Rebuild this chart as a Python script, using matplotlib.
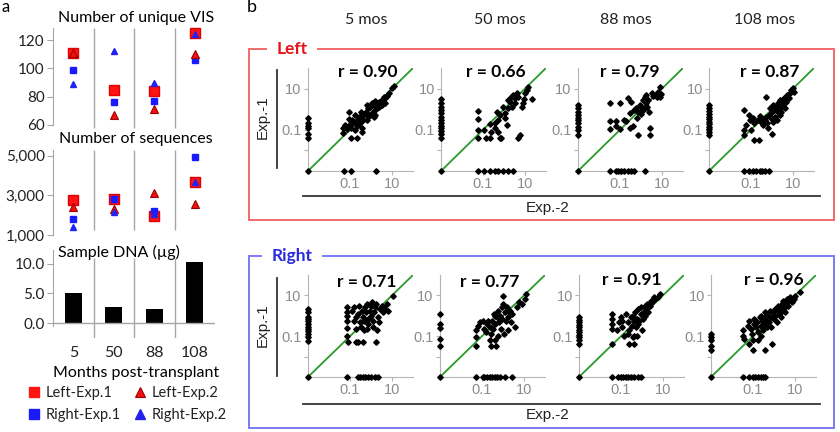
import numpy as np
import matplotlib.pyplot as plt
from matplotlib.lines import Line2D
from matplotlib.patches import Rectangle
from matplotlib.ticker import NullLocator

plt.rcParams['font.family'] = ['Lato', 'DejaVu Sans']

W, H = 840, 432

# ---- panel a ----
months = ["5", "50", "88", "108"]
vis_left1 = [111, 85, 84, 125]
vis_left2 = [111, 67, 71, 110]
vis_right1 = [99, 76, 77, 106]
vis_right2 = [89, 112, 90, 124]
seq_left1 = [2750, 2800, 1950, 3650]
seq_left2 = [2400, 2300, 3100, 2550]
seq_right1 = [1800, 2800, 2200, 4950]
seq_right2 = [1400, 2150, 2050, 3700]
dna_ug = [5.0, 2.7, 2.4, 10.4]

# ---- panel b: log10 abundance, (Exp.-2, Exp.-1) ----
col_titles = ["5 mos", "50 mos", "88 mos", "108 mos"]
r_left = [0.90, 0.66, 0.79, 0.87]
r_right = [0.71, 0.77, 0.91, 0.96]

l5_pts = [(1.1, 1.13), (1.02, 1.02), (0.85, 0.77), (0.77, 0.64), (0.69, 0.53), (0.61, 0.58),
          (0.53, 0.45), (0.40, 0.37), (0.28, 0.28), (0.20, 0.41), (0.12, 0.20), (0.04, 0.32),
          (-0.04, 0.12), (-0.12, 0.04), (-0.20, 0.20), (-0.25, -0.12), (-0.32, -0.24), (-0.41, -0.33),
          (-0.48, -0.12), (-0.58, -0.40), (-0.64, -0.50), (-0.74, -0.28), (-0.80, -0.61), (-0.90, -0.53),
          (-0.97, -0.69), (-1.07, -0.12), (-1.07, -0.50), (-1.02, -0.77), (-0.93, -0.89), (-0.69, -0.82),
          (-0.53, -0.69), (-0.45, -0.89), (-0.37, -0.53), (-0.20, -0.53), (-0.04, -0.28), (0.07, -0.17),
          (0.17, -0.04), (0.28, 0.04), (0.37, 0.12), (0.50, 0.20), (0.66, 0.32), (-0.12, -0.37),
          (0.12, -0.40), (-0.45, -1.10), (-0.77, -1.02), (-0.93, -1.42), (-0.69, -1.42), (-1.34, -0.89),
          (-1.34, -1.15), (-1.26, -0.77), (-1.13, -0.98), (0.20, -0.28)]
l5_only1 = [-0.45, -0.69, -0.82, -0.93, -1.18, -1.42]
l5_only2 = [-1.29, -0.95, 0.22]

l50_pts = [(-1.23, -0.07), (-1.23, -0.48), (-1.23, -1.02), (-1.23, -1.42), (-0.85, -1.42), (-0.69, -1.42),
           (-0.61, -1.10), (-0.28, -1.10), (-0.20, -1.42), (-0.12, -1.42), (0.12, -0.77), (-0.69, -0.72),
           (-0.45, -0.69), (-0.28, -0.53), (-0.20, -0.28), (-0.32, -0.12), (0.04, -0.17), (0.20, 0.04),
           (0.28, 0.37), (0.20, 0.45), (0.33, 0.61), (0.45, 0.69), (0.61, 0.77), (0.69, 0.61),
           (0.93, 0.48), (1.02, 0.77), (1.10, 0.93), (1.15, 1.10), (1.34, 0.48), (0.85, 0.12),
           (0.53, 0.28), (0.37, 0.12), (0.04, -0.45), (0.69, -1.42), (0.77, -1.26), (-0.45, -0.93),
           (-0.93, -1.02), (-0.04, 0.12), (0.53, 0.53), (0.89, 0.28)]
l50_only1 = [0.48, 0.28, 0.12, -0.04, -0.20, -0.37, -0.53, -0.69, -0.82, -0.93, -1.05, -1.18, -1.42]
l50_only2 = [-1.23, -0.93, -0.69, -0.45, -0.28, -0.04, 0.20, 0.45]

l88_pts = [(-1.49, 0.32), (-1.49, -0.56), (-1.49, -0.98), (-1.21, -0.56), (-1.21, -0.82), (-1.00, 0.28),
           (-1.00, -0.98), (-0.80, -0.53), (-0.72, -0.58), (-0.64, 0.53), (-0.48, 0.37), (-0.54, -0.93),
           (-0.40, -0.82), (-0.51, -0.20), (-0.32, -0.04), (-0.24, 0.04), (-0.15, -0.12), (-0.12, -1.26),
           (-0.07, 0.20), (0.01, 0.12), (-0.02, -0.24), (0.09, -0.04), (0.17, 0.04), (0.25, 0.28),
           (0.30, 0.12), (0.33, 0.45), (0.37, -0.12), (0.41, -0.93), (0.41, -1.26), (0.17, 0.61),
           (0.25, 0.69), (0.50, 0.77), (0.66, 0.69), (0.74, 0.61), (0.82, 0.85), (0.90, 1.10),
           (0.95, 0.74), (0.90, 0.61), (0.58, 0.64), (0.09, 0.45), (-0.19, -0.45)]
l88_only1 = [0.20, 0.04, -0.12, -0.28, -0.45, -0.53, -0.69, -0.85, -1.02, -1.26]
l88_only2 = [-1.46, -1.21, -1.10, -0.97, -0.80, -0.64, -0.48, -0.32, 0.20]

l108_pts = [(-1.33, -0.04), (-1.33, -1.02), (-1.33, -1.26), (-1.24, -0.77), (-1.08, -0.28), (-1.03, -0.53),
            (-1.00, -1.02), (-0.92, -0.45), (-0.84, -0.69), (-0.84, -1.50), (-0.67, -0.53), (-0.64, -1.50),
            (-0.59, -0.33), (-0.54, -0.61), (-0.48, -0.50), (-0.43, -0.77), (-0.35, -0.53), (-0.27, 0.61),
            (-0.27, -0.37), (-0.22, -0.69), (-0.19, -0.93), (-0.15, -0.28), (-0.11, 0.04), (-0.06, -0.45),
            (-0.02, -0.12), (0.01, -1.18), (0.06, 0.20), (0.11, -0.04), (0.14, -0.37), (0.22, 0.12),
            (0.27, -0.12), (0.30, 0.28), (0.33, 0.04), (0.38, 0.45), (0.43, -0.12), (0.46, 0.12),
            (0.50, 0.37), (0.54, 0.20), (0.59, 0.53), (0.63, 0.04), (0.66, 0.37), (0.71, 0.69),
            (0.79, 0.53), (0.87, 0.77), (0.92, 0.93), (0.98, 1.02), (1.03, 0.85), (0.22, -0.53),
            (0.06, -0.61), (0.38, -0.28)]
l108_only1 = [0.20, 0.04, -0.09, -0.24, -0.37, -0.50, -0.61, -0.72, -0.85, -0.98, -1.10, -1.26]
l108_only2 = [-1.33, -1.08, -0.92, -0.76, -0.59, -0.48, -0.35, -0.15]

r5_pts = [(-1.13, 0.41), (-1.13, 0.17), (-1.13, 0.01), (-1.13, -0.24), (-1.13, -0.59), (-1.13, -0.97),
          (-1.10, -1.29), (-0.89, 0.25), (-0.80, 0.41), (-0.72, -0.07), (-0.72, -0.64), (-0.72, -1.29),
          (-0.64, 0.09), (-0.56, 0.50), (-0.51, -0.32), (-0.48, -0.56), (-0.45, 0.25), (-0.40, -0.07),
          (-0.35, -0.24), (-0.32, -0.72), (-0.28, 0.41), (-0.24, 0.17), (-0.19, 0.58), (-0.15, -0.40),
          (-0.12, -0.15), (-0.07, 0.25), (-0.02, 0.01), (0.01, 0.50), (0.04, 0.66), (0.09, -0.24),
          (0.14, 0.17), (0.17, 0.41), (0.25, 0.58), (0.25, -1.29), (0.30, -0.72), (0.33, -0.07),
          (0.37, -0.32), (0.41, 0.33), (0.50, 0.50), (0.58, 0.17), (0.66, 0.33), (0.74, 0.58),
          (0.82, 0.25), (1.07, 0.98), (-0.64, -1.29), (-0.40, -1.29), (-0.80, -0.24), (-0.19, -0.64),
          (0.09, -0.56)]
r5_only1 = [0.33, 0.17, -0.04, -0.15, -0.27, -0.40, -0.53, -0.64, -0.76, -0.89, -1.05, -1.24]
r5_only2 = [-1.13, -0.64, -0.51, -0.40, -0.28, -0.15, 0.01, 0.17, 0.33]

r50_pts = [(-1.29, -0.72), (-1.29, -1.05), (-1.29, -1.50), (-1.21, -0.48), (-1.08, -0.32), (-0.97, -0.24),
           (-0.89, -0.64), (-0.80, -0.80), (-0.76, -0.40), (-0.72, -0.24), (-0.64, -0.56), (-0.64, -1.21),
           (-0.59, -1.46), (-0.56, -0.89), (-0.53, -0.24), (-0.48, -0.64), (-0.43, 0.09), (-0.40, -0.40),
           (-0.37, -1.21), (-0.32, -1.46), (-0.27, -0.07), (-0.24, 0.25), (-0.20, -0.32), (-0.15, 0.01),
           (-0.11, -0.64), (-0.07, 0.41), (-0.04, -0.15), (0.01, 0.58), (0.06, -0.89), (0.09, 0.17),
           (0.12, -0.24), (0.17, 0.41), (0.22, -0.07), (0.25, -0.72), (0.28, 0.17), (0.33, 0.25),
           (0.38, -0.32), (0.45, 0.09), (0.58, -0.56), (0.66, 0.41), (0.74, 0.66), (0.90, 0.58),
           (1.03, 0.82), (1.10, 1.07), (0.01, 0.98), (-0.40, 0.01), (-0.24, -0.97)]
r50_only1 = [0.09, -0.40, -0.59, -1.13, -1.50]
r50_only2 = [-1.29, -0.97, -0.89, -0.76, -0.64, -0.53, -0.40, -0.27, -0.15, 0.09, 0.41]

r88_pts = [(-1.42, 0.09), (-1.42, -0.15), (-1.42, -0.40), (-1.42, -0.64), (-1.42, -1.37), (-1.18, -0.72),
           (-1.02, -0.07), (-0.93, -0.24), (-0.93, -0.56), (-0.85, -0.97), (-0.77, 0.09), (-0.69, -0.32),
           (-0.61, -0.72), (-0.61, -1.37), (-0.53, -0.07), (-0.50, -0.48), (-0.45, 0.01), (-0.40, -0.24),
           (-0.37, -0.97), (-0.37, -1.37), (-0.33, 0.17), (-0.28, -0.56), (-0.24, -0.15), (-0.20, -0.40),
           (-0.17, 0.33), (-0.12, -0.24), (-0.07, 0.09), (-0.04, 0.41), (-0.01, -0.72), (0.04, -0.15),
           (0.09, 0.17), (0.12, 0.50), (0.15, 0.01), (0.20, 0.33), (0.25, 0.58), (0.28, 0.17),
           (0.37, 0.50), (0.41, 0.74), (0.48, 0.66), (0.58, 0.90), (0.64, 0.82), (0.74, 0.93),
           (0.85, 1.07), (-0.24, -0.97), (-0.45, -1.05), (-0.69, -0.89), (-1.10, -0.32)]
r88_only1 = [-0.07, -0.20, -0.32, -0.43, -0.56, -0.69, -0.80, -0.92, -1.05, -1.18, -1.37]
r88_only2 = [-1.42, -1.15, -1.02, -0.89, -0.77, -0.66, -0.53, -0.37, -0.20, -0.04]

r108_pts = [(-1.50, -0.72), (-1.50, -0.97), (-1.42, -1.13), (-1.26, -0.48), (-1.18, -0.24), (-1.18, -1.37),
            (-1.10, -0.64), (-1.07, -0.89), (-1.02, -1.21), (-1.02, -1.70), (-0.97, -0.40), (-0.93, -0.15),
            (-0.85, -0.56), (-0.80, -0.32), (-0.77, -0.80), (-0.74, -1.21), (-0.69, -0.07), (-0.64, -0.48),
            (-0.61, 0.01), (-0.61, -0.97), (-0.58, -0.24), (-0.53, -0.72), (-0.48, -0.40), (-0.45, -0.07),
            (-0.41, 0.17), (-0.37, -0.24), (-0.32, -0.56), (-0.28, 0.01), (-0.25, -0.32), (-0.20, 0.25),
            (-0.15, -0.07), (-0.12, -0.56), (-0.09, -1.37), (-0.04, 0.17), (0.01, -0.15), (0.04, 0.33),
            (0.07, 0.01), (0.12, -0.32), (0.17, 0.25), (0.20, 0.50), (0.24, 0.09), (0.28, 0.41),
            (0.33, -0.07), (0.37, 0.58), (0.40, 0.25), (0.45, 0.74), (0.50, 0.41), (0.53, 0.17),
            (0.56, 0.66), (0.61, 0.82), (0.66, 0.50), (0.69, 0.74), (0.77, 0.90), (0.85, 0.66),
            (0.93, 0.82), (1.02, 0.98), (1.26, 1.15), (-0.45, -1.70)]
r108_only1 = [-0.89, -1.05, -1.21, -1.46, -1.70]
r108_only2 = [-1.50, -1.18, -1.02, -0.90, -0.77, -0.64, -0.53, -0.45]

left_panels = [(l5_pts, l5_only1, l5_only2), (l50_pts, l50_only1, l50_only2),
               (l88_pts, l88_only1, l88_only2), (l108_pts, l108_only1, l108_only2)]
right_panels = [(r5_pts, r5_only1, r5_only2), (r50_pts, r50_only1, r50_only2),
                (r88_pts, r88_only1, r88_only2), (r108_pts, r108_only1, r108_only2)]

RED = "#ff1414"
BLUE = "#1a1aff"
GRAY = "#a6a6a6"

fig = plt.figure(figsize=(W / 100, H / 100), dpi=100)


def px_axes(x0, y0, x1, y1):
    return fig.add_axes([x0 / W, 1 - y1 / H, (x1 - x0) / W, (y1 - y0) / H])


def ftext(x, y, s, **kw):
    kw.setdefault("ha", "center")
    kw.setdefault("va", "center")
    return fig.text(x / W, 1 - y / H, s, **kw)


def style_a(ax):
    for side in ["top", "right", "bottom"]:
        ax.spines[side].set_visible(False)
    ax.spines["left"].set_color(GRAY)
    ax.set_xlim(-0.5, 3.5)
    ax.tick_params(axis="y", length=4, color=GRAY, labelsize=11, labelcolor="#222222", pad=2)
    ax.tick_params(axis="x", length=0)


def markers_a(ax, l1, l2, r1, r2):
    x = np.arange(4)
    ax.plot(x, l1, "s", ms=6.8, color=RED, mec="#e00000", clip_on=False)
    ax.plot(x, r1, "s", ms=4.2, color=BLUE, mec=BLUE, clip_on=False)
    ax.plot(x, l2, "^", ms=6.2, color="#f01010", mec="#a00000", mew=0.8, clip_on=False)
    ax.plot(x, r2, "^", ms=4.6, color="#2222ee", mec="#2222ee", clip_on=False)


ftext(1, 7, "a", size=12, ha="left")

ax1 = px_axes(53, 28, 215, 125)
style_a(ax1)
ax1.set_ylim(60, 128.5)
ax1.set_yticks([60, 80, 100, 120])
ax1.set_xticks([])
ax1.vlines([0.5, 1.5, 2.5], 58, 128.5, color=GRAY, lw=1, clip_on=False)
markers_a(ax1, vis_left1, vis_left2, vis_right1, vis_right2)
ftext(136, 18, "Number of unique VIS", size=11.5)

ax2 = px_axes(53, 150, 215, 235)
style_a(ax2)
ax2.set_ylim(1000, 5290)
ax2.set_yticks([1000, 3000, 5000], ["1,000", "3,000", "5,000"])
ax2.set_xticks([])
ax2.vlines([0.5, 1.5, 2.5], 1250, 5290, color=GRAY, lw=1)
markers_a(ax2, seq_left1, seq_left2, seq_right1, seq_right2)
ftext(136, 139, "Number of sequences", size=11.5)

ax3 = px_axes(53, 250, 215, 338)
style_a(ax3)
ax3.set_ylim(-2.54, 12.37)
ax3.spines["left"].set_bounds(-0.5, 12.37)
ax3.bar(np.arange(4), dna_ug, width=0.42, color="black")
ax3.plot([-0.5, 3.5], [0, 0], color=GRAY, lw=1)
ax3.vlines([0.5, 1.5, 2.5], -2.54, 11.0, color=GRAY, lw=1)
ax3.set_yticks([0, 5, 10], ["0.0", "5.0", "10.0"])
ax3.set_xticks(np.arange(4), months)
ax3.tick_params(axis="x", length=0, pad=6, labelsize=11.5, labelcolor="#222222")
ftext(119, 252, "Sample DNA (µg)", size=11.5)
ftext(136, 373, "Months post-transplant", size=11.5)

handles = [Line2D([], [], ls="", marker="s", ms=7, color=RED),
           Line2D([], [], ls="", marker="s", ms=7, color=BLUE),
           Line2D([], [], ls="", marker="^", ms=7, color="#f01010", mec="#a00000", mew=0.8),
           Line2D([], [], ls="", marker="^", ms=7, color="#2222ee")]
labels = ["Left-Exp.1", "Right-Exp.1", "Left-Exp.2", "Right-Exp.2"]
fig.legend(handles, labels, ncol=2, loc="upper left", bbox_to_anchor=(28 / W, 1 - 386 / H),
           frameon=False, fontsize=10.5, handlelength=0.8, handletextpad=0.4,
           columnspacing=0.9, labelspacing=0.55, borderaxespad=0, borderpad=0,
           labelcolor="#222222")

# ---- panel b ----
ftext(247, 7, "b", size=13, ha="left")
for cx, t in zip([366, 500, 626, 765], col_titles):
    ftext(cx, 20, t, size=11.5, color="#222222")


def draw_scatter(ax, pts, only1, only2, r, rx, ry):
    lo, hi = 1e-3, 1e2
    ax.set_xscale("log")
    ax.set_yscale("log")
    ax.set_xlim(lo, hi)
    ax.set_ylim(lo, hi)
    ax.plot([lo, hi], [lo, hi], color="#2a9a2a", lw=1.3, zorder=1)
    xs = 10 ** np.array([p[0] for p in pts])
    ys = 10 ** np.array([p[1] for p in pts])
    kw = dict(ls="", marker="D", ms=2.8, color="black", zorder=3, clip_on=False)
    ax.plot(xs, ys, **kw)
    ax.plot(np.full(len(only1), lo), 10 ** np.array(only1), **kw)
    ax.plot(10 ** np.array(only2), np.full(len(only2), lo), **kw)
    ax.plot([lo], [lo], **kw)
    for side in ["top", "right"]:
        ax.spines[side].set_visible(False)
    for side in ["left", "bottom"]:
        ax.spines[side].set_color("#b4b4b4")
    ax.set_xticks([0.1, 10], ["0.1", "10"])
    ax.set_yticks([0.01, 0.1, 10], ["", "0.1", "10"])
    ax.xaxis.set_minor_locator(NullLocator())
    ax.yaxis.set_minor_locator(NullLocator())
    ax.tick_params(length=3, color="#b4b4b4", labelcolor="#8c8c8c", labelsize=10.5, pad=1.5)
    for lab in ax.get_xticklabels() + ax.get_yticklabels():
        lab.set_family("Liberation Sans")
    ftext(rx, ry, f"r = {r:.2f}", size=12.5, weight="bold")


top_x = [308, 441, 578, 709]
bot_x = [308, 440, 579, 711]
r_top_pos = [(368, 72), (496, 72), (630, 72), (770, 72)]
r_bot_pos = [(367, 282), (490, 282), (632, 280), (774, 280)]

for i in range(4):
    ax = px_axes(top_x[i], 68, top_x[i] + 105, 171)
    pts, o1, o2 = left_panels[i]
    draw_scatter(ax, pts, o1, o2, r_left[i], *r_top_pos[i])
    ax = px_axes(bot_x[i], 275, bot_x[i] + 105, 377)
    pts, o1, o2 = right_panels[i]
    draw_scatter(ax, pts, o1, o2, r_right[i], *r_bot_pos[i])

# group boxes
for (y0, y1, ec, name, tc) in [(49, 220, "#f06a6a", "Left", "#e8141b"),
                               (256, 428, "#7b7bf0", "Right", "#2b2bdc")]:
    fig.add_artist(Rectangle((249 / W, 1 - y1 / H), (834 - 249) / W, (y1 - y0) / H,
                             transform=fig.transFigure, fill=False, ec=ec, lw=1.4))
    ftext(292, y0, name, size=12.5, weight="bold", color=tc,
          bbox=dict(fc="white", ec="none", pad=7))

# axis labels for panel b
for y0, y1, ylab, yline, ytext in [(70, 168, 117, 196, 208), (278, 376, 325, 404, 415)]:
    fig.add_artist(Line2D([277 / W, 277 / W], [1 - y0 / H, 1 - y1 / H], color="#333333", lw=1.3))
    ftext(263, ylab, "Exp.-1", size=11, rotation=90, family="Liberation Sans", color="#222222")
    fig.add_artist(Line2D([303 / W, 820 / W], [1 - yline / H, 1 - yline / H], color="#333333", lw=1.3))
    ftext(548, ytext, "Exp.-2", size=11, family="Liberation Sans", color="#222222")

fig.savefig("out.png", dpi=100)
